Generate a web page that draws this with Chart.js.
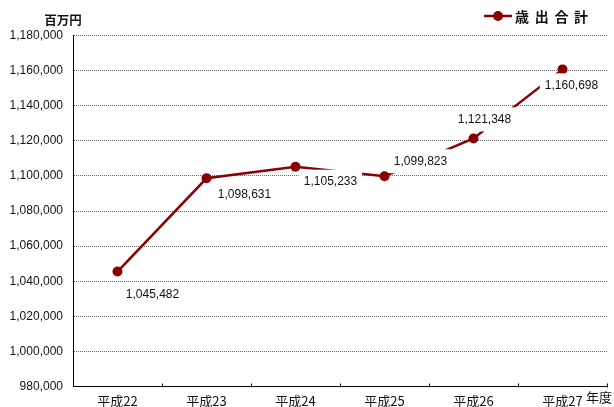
<!DOCTYPE html>
<html lang="ja">
  <head>
    <meta charset="UTF-8" />
    <title>歳出合計</title>
    <style>
      html,
      body {
        margin: 0;
        padding: 0;
        background: #fff;
        overflow: hidden;
      }
      #wrap {
        width: 614px;
        height: 420px;
      }
    </style>
  </head>
  <body>
    <div id="wrap"><canvas id="chart" width="614" height="420"></canvas></div>

    <script src="https://cdn.jsdelivr.net/npm/chart.js"></script>
    <script>
      // data (百万円)
      const years = ["平成22", "平成23", "平成24", "平成25", "平成26", "平成27"];
      const totals = [1045482, 1098631, 1105233, 1099823, 1121348, 1160698];
      const seriesName = ["歳", "出", "合", "計"];
      const yMin = 980000;
      const yMax = 1180000;
      const yStep = 20000;

      const lineColor = "#8b0000";
      const font = "'Liberation Sans', 'Noto Sans CJK JP', sans-serif";
      const jpFont = "'Noto Sans CJK JP', sans-serif";

      // label offsets relative to each point (dx, dy)
      const labelOffsets = [
        [35, 23],
        [38, 16],
        [35, 15],
        [36, -15],
        [11, -19],
        [9, 16],
      ];

      const fmt = (v) => v.toLocaleString("en-US");

      const extras = {
        id: "extras",
        afterDatasetsDraw(chart) {
          const ctx = chart.ctx;
          const meta = chart.getDatasetMeta(0);
          const x = chart.scales.x;
          const y = chart.scales.y;
          ctx.save();

          // small inward ticks on x axis
          ctx.strokeStyle = "#000";
          ctx.lineWidth = 1;
          const w = (x.right - x.left) / years.length;
          for (let i = 1; i <= years.length; i++) {
            const px = Math.round(x.left + i * w) + 0.5;
            ctx.beginPath();
            ctx.moveTo(px, y.bottom + 1);
            ctx.lineTo(px, y.bottom - 3);
            ctx.stroke();
          }

          // data labels with white boxes
          ctx.font = "12px " + font;
          ctx.textAlign = "center";
          ctx.textBaseline = "middle";
          meta.data.forEach((pt, i) => {
            const t = fmt(totals[i]);
            const tx = pt.x + labelOffsets[i][0];
            const ty = pt.y + labelOffsets[i][1];
            const tw = ctx.measureText(t).width;
            ctx.fillStyle = "#fff";
            ctx.fillRect(tx - tw / 2 - 5, ty - 12, tw + 10, 24);
            ctx.fillStyle = "#111";
            ctx.fillText(t, tx, ty);
          });

          // unit labels
          ctx.font = "bold 12.5px " + jpFont;
          ctx.fillStyle = "#111";
          ctx.textAlign = "center";
          ctx.fillText("百万円", 63, 20);
          ctx.font = "13px " + jpFont;
          ctx.textAlign = "left";
          ctx.fillText("年度", 586, 397);

          // legend
          ctx.strokeStyle = lineColor;
          ctx.lineWidth = 2.5;
          ctx.beginPath();
          ctx.moveTo(484, 16);
          ctx.lineTo(512, 16);
          ctx.stroke();
          ctx.fillStyle = lineColor;
          ctx.beginPath();
          ctx.arc(498, 16, 5, 0, Math.PI * 2);
          ctx.fill();
          ctx.fillStyle = "#111";
          ctx.font = "bold 14px " + jpFont;
          ctx.textAlign = "left";
          seriesName.forEach((ch, i) => {
            ctx.fillText(ch, 515 + i * 19.7, 17);
          });
          ctx.restore();
        },
      };

      new Chart(document.getElementById("chart"), {
        type: "line",
        data: {
          labels: years,
          datasets: [
            {
              label: seriesName.join(""),
              data: totals,
              borderColor: lineColor,
              backgroundColor: lineColor,
              borderWidth: 2.5,
              pointRadius: 5,
              pointHoverRadius: 5,
              pointBackgroundColor: lineColor,
              pointBorderWidth: 0,
              tension: 0,
              fill: false,
            },
          ],
        },
        options: {
          responsive: false,
          animation: false,
          layout: { padding: { top: 35.5, right: 7, left: 0, bottom: 0 } },
          plugins: {
            legend: { display: false },
            tooltip: { enabled: false },
          },
          scales: {
            x: {
              offset: true,
              grid: { display: false, drawTicks: false },
              border: { color: "#000", width: 1 },
              ticks: {
                color: "#111",
                font: { family: jpFont, size: 13 },
                padding: 7,
                maxRotation: 0,
              },
              afterFit(scale) {
                scale.height = 33.5;
              },
            },
            y: {
              min: yMin,
              max: yMax,
              grid: {
                color: "#666",
                drawTicks: false,
                lineWidth: 1,
              },
              border: { color: "#000", width: 1, dash: [1, 1] },
              ticks: {
                stepSize: yStep,
                color: "#111",
                font: { family: font, size: 12 },
                padding: 10,
                callback: (v) => fmt(v),
              },
              afterFit(scale) {
                scale.width = 73;
              },
            },
          },
        },
        plugins: [extras],
      });
    </script>
  </body>
</html>
